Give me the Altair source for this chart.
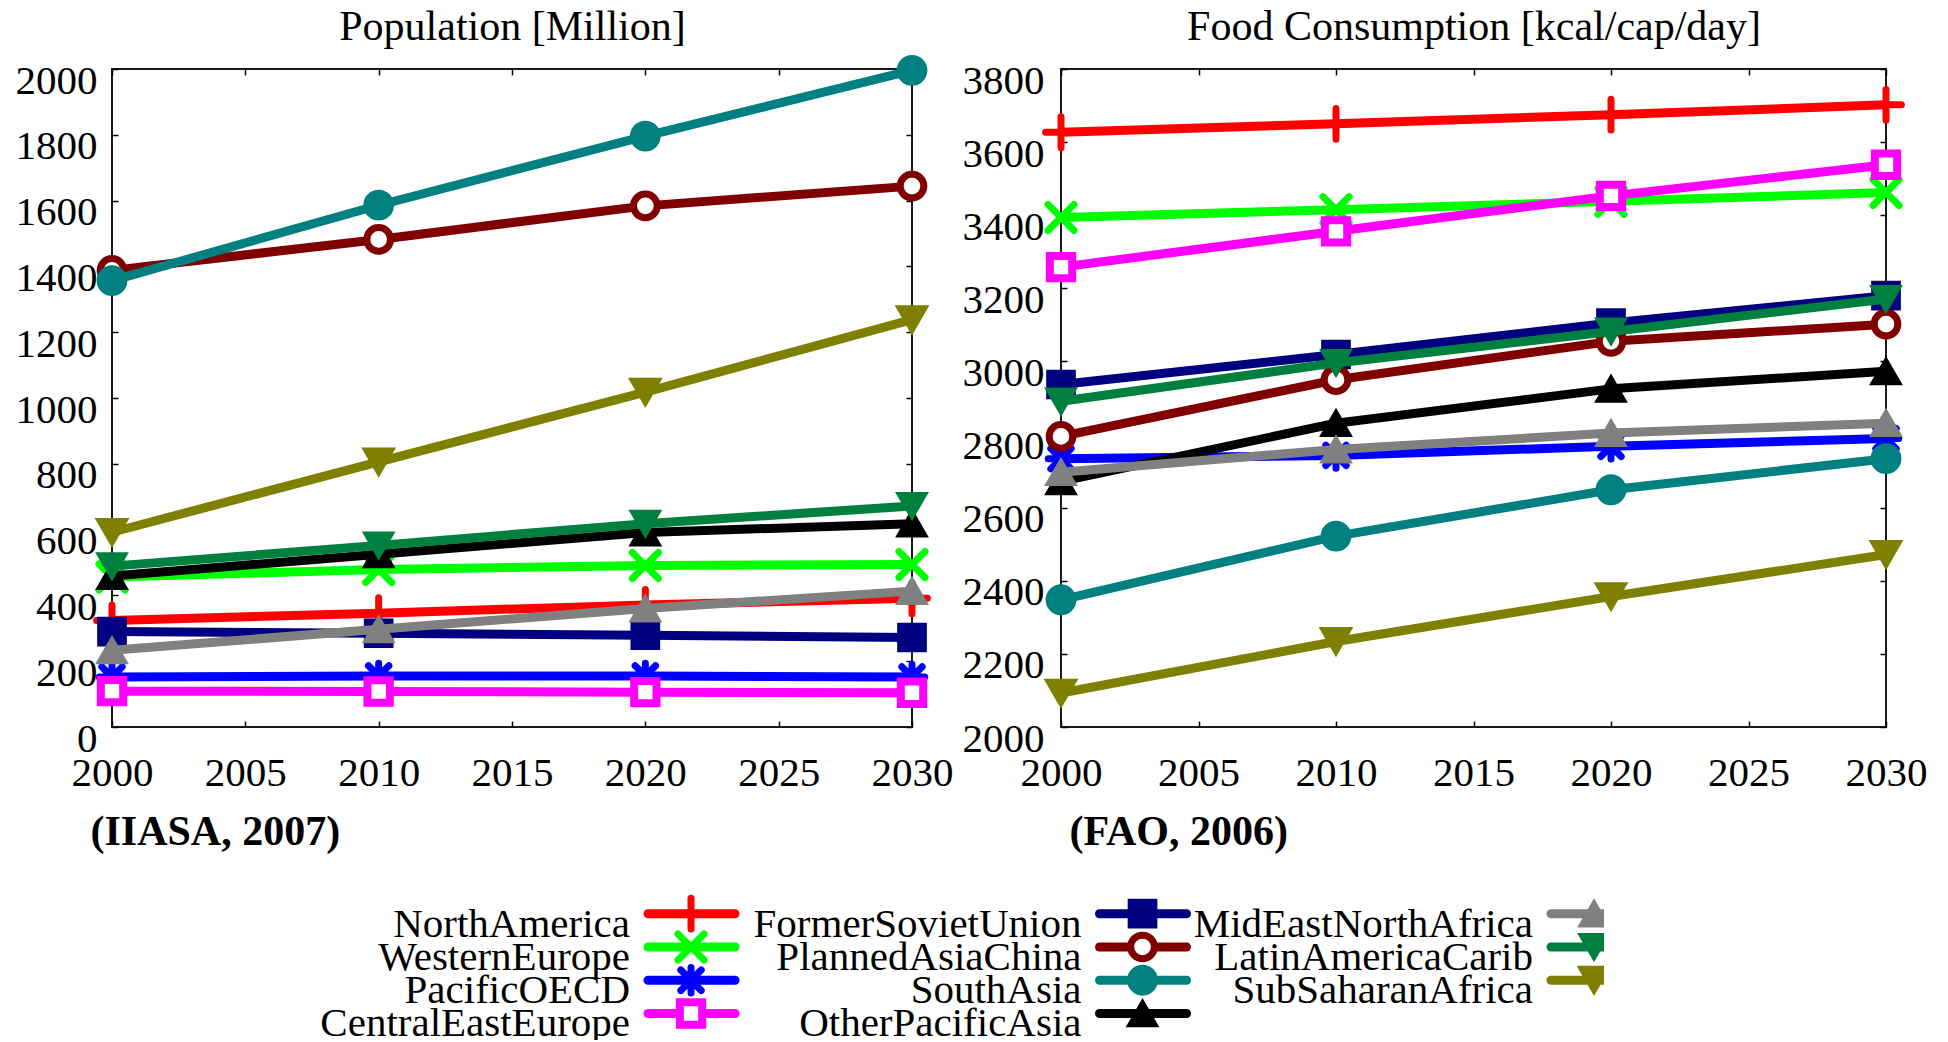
import altair as alt
import pandas as pd

FONT = "Liberation Serif"

years = [2000, 2010, 2020, 2030]
x_ticks = [2000, 2005, 2010, 2015, 2020, 2025, 2030]

regions = ["NorthAmerica", "WesternEurope", "PacificOECD", "CentralEastEurope",
           "FormerSovietUnion", "PlannedAsiaChina", "SouthAsia", "OtherPacificAsia",
           "MidEastNorthAfrica", "LatinAmericaCarib", "SubSaharanAfrica"]

# Population [Million]
pop_north_america = [324, 346, 371, 391]
pop_western_europe = [456, 479, 491, 494]
pop_pacific_oecd = [152, 155, 155, 152]
pop_central_east_europe = [109, 108, 106, 104]
pop_former_soviet_union = [290, 285, 279, 272]
pop_planned_asia_china = [1388, 1482, 1584, 1644]
pop_south_asia = [1357, 1586, 1796, 1996]
pop_other_pacific_asia = [459, 525, 591, 618]
pop_mideast_north_africa = [233, 297, 360, 413]
pop_latin_america_carib = [489, 552, 618, 672]
pop_sub_saharan_africa = [592, 806, 1018, 1238]

# Food consumption [kcal/cap/day]
food_north_america = [3627, 3650, 3675, 3702]
food_western_europe = [3394, 3415, 3438, 3462]
food_pacific_oecd = [2734, 2743, 2768, 2789]
food_central_east_europe = [3258, 3356, 3453, 3538]
food_former_soviet_union = [2937, 3019, 3105, 3180]
food_planned_asia_china = [2795, 2950, 3055, 3102]
food_south_asia = [2348, 2522, 2649, 2734]
food_other_pacific_asia = [2672, 2831, 2925, 2973]
food_mideast_north_africa = [2697, 2759, 2804, 2831]
food_latin_america_carib = [2891, 2996, 3082, 3171]
food_sub_saharan_africa = [2093, 2234, 2357, 2472]

pop_series = [pop_north_america, pop_western_europe, pop_pacific_oecd, pop_central_east_europe,
              pop_former_soviet_union, pop_planned_asia_china, pop_south_asia, pop_other_pacific_asia,
              pop_mideast_north_africa, pop_latin_america_carib, pop_sub_saharan_africa]
food_series = [food_north_america, food_western_europe, food_pacific_oecd, food_central_east_europe,
               food_former_soviet_union, food_planned_asia_china, food_south_asia, food_other_pacific_asia,
               food_mideast_north_africa, food_latin_america_carib, food_sub_saharan_africa]

legend_col = [0, 0, 0, 0, 1, 1, 1, 1, 2, 2, 2]
legend_row = [0, 1, 2, 3, 0, 1, 2, 3, 0, 1, 2]

# styles
colors = ["#FF0000", "#00FF00", "#0000FF", "#FF00FF", "#000080", "#800000",
          "#008080", "#000000", "#808080", "#00803F", "#808000"]
PLUS = "M0,-1L0,1M-1,0L1,0"
CROSS = "M-1,-1L1,1M-1,1L1,-1"
STAR = "M0,-1L0,1M-1,0L1,0M-0.8,-0.8L0.8,0.8M-0.8,0.8L0.8,-0.8"
shapes = [PLUS, CROSS, STAR, "square", "square", "circle", "circle",
          "triangle-up", "triangle-up", "triangle-down", "triangle-down"]
fills = ["transparent", "transparent", "transparent", "white", None, "white", None,
         None, None, None, None]
sizes = [950, 680, 650, 500, 660, 560, 720, 820, 820, 820, 880]
swidths = [7, 7, 7, 8, 4, 7, 4, 3, 3, 3, 3]
LINE_W = 9


def long_df(series):
    rows = []
    for r, vals in zip(regions, series):
        for y, v in zip(years, vals):
            rows.append({"region": r, "year": y, "value": v})
    return pd.DataFrame(rows)


def panel(series, ydomain, yticks, title, source, source_x, width, ylabel_pad):
    df = long_df(series)
    xs = alt.Scale(domain=[2000, 2030], nice=False, zero=False)
    ys = alt.Scale(domain=ydomain, nice=False, zero=False)
    x_axis = alt.Axis(values=x_ticks, orient="bottom", offset=-6, tickSize=6, domain=False,
                      grid=False, labelFont=FONT, labelFontSize=41, labelColor="black",
                      labelPadding=58, labelBaseline="alphabetic", labelFlush=False,
                      labelOverlap=False, format="d", tickColor="black", tickWidth=1.5,
                      title=source, titleFont=FONT, titleFontSize=42, titleFontWeight="bold",
                      titleColor="black", titleAnchor="start", titleAlign="left",
                      titleBaseline="alphabetic", titleX=source_x, titleY=123)
    y_axis = alt.Axis(values=yticks, orient="left", offset=-6, tickSize=6, domain=False,
                      grid=False, labelFont=FONT, labelFontSize=41, labelColor="black",
                      labelPadding=ylabel_pad, labelBaseline="alphabetic", labelOffset=24,
                      labelFlush=False, labelOverlap=False, format="d", tickColor="black",
                      tickWidth=1.5, title=None)
    layers = []
    for i, r in enumerate(regions):
        base = alt.Chart(df).transform_filter(alt.datum.region == r).encode(
            x=alt.X("year:Q", scale=xs, axis=x_axis),
            y=alt.Y("value:Q", scale=ys, axis=y_axis),
        )
        layers.append(base.mark_line(color=colors[i], strokeWidth=LINE_W, strokeCap="round",
                                     strokeJoin="round"))
        pkw = dict(shape=shapes[i], size=sizes[i], filled=True, opacity=1,
                   stroke=colors[i], strokeWidth=swidths[i], strokeCap="round")
        pkw["fill"] = fills[i] if fills[i] is not None else colors[i]
        layers.append(base.mark_point(**pkw))
    mirror = alt.Chart(df).mark_point(opacity=0).encode(
        x=alt.X("year:Q", scale=xs,
                axis=alt.Axis(values=x_ticks, orient="top", offset=-6, tickSize=6, labels=False,
                              domain=False, grid=False, tickColor="black", tickWidth=1.5,
                              title=title, titleFont=FONT, titleFontSize=42,
                              titleFontWeight="normal", titleColor="black",
                              titleAlign="center", titleBaseline="alphabetic",
                              titleX=width / 2, titleY=-36)),
        y=alt.Y("value:Q", scale=ys,
                axis=alt.Axis(values=yticks, orient="right", offset=-6, tickSize=6, labels=False,
                              domain=False, grid=False, title=None, tickColor="black",
                              tickWidth=1.5)),
    )
    return alt.layer(alt.layer(*layers), mirror).resolve_axis(
        x="independent", y="independent"
    ).properties(
        width=width, height=658,
        view=alt.ViewBackground(stroke="#1a1a1a", strokeWidth=2),
    )


left = panel(pop_series, [0, 2000], list(range(0, 2001, 200)), "Population [Million]",
             "(IIASA, 2007)", -22, 800, 15)
right = panel(food_series, [2000, 3800], list(range(2000, 3801, 200)),
              "Food Consumption [kcal/cap/day]", "(FAO, 2006)", 8, 825, 17)

# legend panel (gnuplot style: label, then sample)
leg_df = pd.DataFrame({"region": regions, "col": legend_col, "row": legend_row})
lx = alt.Scale(domain=[-1.1473, 2.1572], nice=False, zero=False)
ly = alt.Scale(domain=[-0.653, 3.798], nice=False, zero=False, reverse=True)
leg_layers = [
    alt.Chart(leg_df).mark_text(align="right", baseline="alphabetic", dy=23, font=FONT,
                                fontSize=41, color="black", clip=True).encode(
        x=alt.X("col:Q", scale=lx, axis=None),
        y=alt.Y("row:Q", scale=ly, axis=None),
        text="region:N",
    )
]
for i, r in enumerate(regions):
    b = alt.Chart(leg_df).transform_filter(alt.datum.region == r)
    leg_layers.append(b.mark_rule(color=colors[i], strokeWidth=LINE_W, strokeCap="round",
                                  xOffset=18, x2Offset=105, clip=True).encode(
        x=alt.X("col:Q", scale=lx, axis=None), x2="col:Q",
        y=alt.Y("row:Q", scale=ly, axis=None)))
    pkw = dict(shape=shapes[i], size=sizes[i], filled=True, opacity=1, stroke=colors[i],
               strokeWidth=swidths[i], strokeCap="round", xOffset=61, clip=True)
    pkw["fill"] = fills[i] if fills[i] is not None else colors[i]
    leg_layers.append(b.mark_point(**pkw).encode(
        x=alt.X("col:Q", scale=lx, axis=None),
        y=alt.Y("row:Q", scale=ly, axis=None)))

legend = alt.layer(*leg_layers).properties(
    width=1492, height=148, view=alt.ViewBackground(strokeWidth=0))

top = alt.hconcat(left, right, spacing=149, bounds="flush")
chart = alt.vconcat(top, legend, spacing=39).properties(
    padding={"left": 14, "top": 4, "right": 5, "bottom": 0},
    background="white",
).configure_view(strokeWidth=0)

chart.save("out.html", embed_options={"renderer": "svg", "actions": False})
